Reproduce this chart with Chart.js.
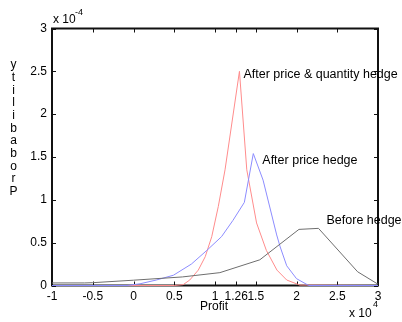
<!DOCTYPE html>
<html>
<head>
<meta charset="utf-8">
<title>Profit distribution before and after hedging</title>
<script src="https://cdn.jsdelivr.net/npm/chart.js@4.4.1/dist/chart.umd.min.js"></script>
<style>
  html, body { margin: 0; padding: 0; background: #ffffff; }
  canvas { display: block; }
</style>
</head>
<body>
<canvas id="chart" width="402" height="322"></canvas>
<script>
// Profit is in units of 10^4, probability in units of 10^-4.
const PROFIT_EXPONENT = '4';
const PROB_EXPONENT = '-4';

const xTickValues = [-1, -0.5, 0, 0.5, 1, 1.26, 1.5, 2, 2.5, 3];
const yTickValues = [0, 0.5, 1, 1.5, 2, 2.5, 3];

const seriesNames = ['Before hedge', 'After price hedge', 'After price & quantity hedge'];

// Unhedged profit
const beforeX = [-1, -0.6, -0.5, 0, 0.6, 1.06, 1.55, 2.03, 2.27, 2.75, 3];
const beforeY = [0.03, 0.03, 0.033, 0.062, 0.1, 0.15, 0.30, 0.655, 0.667, 0.16, 0.015];

// Price hedge only
const priceX = [-1, -0.08, 0.08, 0.28, 0.49, 0.71, 0.9, 1.08, 1.22, 1.36, 1.47, 1.59, 1.757, 1.8, 1.88, 2.0, 2.15, 3];
const priceY = [0, 0, 0.02, 0.064, 0.12, 0.25, 0.41, 0.57, 0.76, 0.97, 1.54, 1.23, 0.59, 0.45, 0.23, 0.08, 0, 0];

// Price and quantity hedge
const pqX = [-1, 0.5, 0.61, 0.69, 0.795, 0.88, 0.96, 1.04, 1.123, 1.3, 1.39, 1.51, 1.63, 1.76, 1.88, 2.04, 3];
const pqY = [0, 0, 0.01, 0.064, 0.18, 0.336, 0.57, 0.92, 1.35, 2.5, 1.35, 0.73, 0.41, 0.18, 0.064, 0.005, 0];

const FONT = "'Liberation Sans', Arial, sans-serif";

function toPoints(xs, ys) {
  return xs.map((x, i) => ({ x: x, y: ys[i] }));
}

// label offsets (px) from each curve's peak
const labelOffsets = [[8, -8], [9, 6.5], [4, 3]];

const boxPlugin = {
  id: 'matlabBox',
  beforeDatasetsDraw(chart) {
    const { ctx, chartArea: a, scales } = chart;
    ctx.save();
    ctx.strokeStyle = '#111';
    ctx.lineWidth = 1;
    // inward tick marks on all four sides
    ctx.beginPath();
    xTickValues.forEach(v => {
      const px = Math.round(scales.x.getPixelForValue(v)) + 0.5;
      ctx.moveTo(px, a.bottom); ctx.lineTo(px, a.bottom - 4);
      ctx.moveTo(px, a.top); ctx.lineTo(px, a.top + 4);
    });
    yTickValues.forEach(v => {
      const py = Math.round(scales.y.getPixelForValue(v)) + 0.5;
      ctx.moveTo(a.left, py); ctx.lineTo(a.left + 4, py);
      ctx.moveTo(a.right, py); ctx.lineTo(a.right - 4, py);
    });
    ctx.stroke();
    ctx.lineWidth = 2;
    ctx.strokeRect(a.left, a.top, a.right - a.left, a.bottom - a.top);
    ctx.restore();
  },
  afterDraw(chart) {
    const { ctx, chartArea: a, scales } = chart;
    ctx.save();
    ctx.fillStyle = '#000';
    ctx.textBaseline = 'middle';

    // curve labels, placed next to each peak
    ctx.font = '12.5px ' + FONT;
    ctx.textAlign = 'left';
    chart.data.datasets.forEach((ds, i) => {
      let peak = ds.data[0];
      ds.data.forEach(p => { if (p.y > peak.y) peak = p; });
      const px = scales.x.getPixelForValue(peak.x) + labelOffsets[i][0];
      const py = scales.y.getPixelForValue(peak.y) + labelOffsets[i][1];
      ctx.fillText(ds.label, px, py);
    });

    // axis title and exponent markers
    ctx.font = '12px ' + FONT;
    ctx.textAlign = 'center';
    ctx.fillText('Profit', (a.left + a.right) / 2 - 1, 306.5);

    ctx.textAlign = 'left';
    ctx.fillText('x 10', a.left + 1, 20);
    ctx.fillText('x 10', 349, 313.5);
    ctx.font = '9px ' + FONT;
    ctx.fillText(PROB_EXPONENT, a.left + 23, 13);
    ctx.fillText(PROFIT_EXPONENT, 373, 305);

    // vertical y title with upright letters
    ctx.font = '12px ' + FONT;
    ctx.textAlign = 'center';
    const title = 'Probability';
    const letters = title.split('').reverse();
    const top = 65, step = 12.67;
    letters.forEach((ch, i) => ctx.fillText(ch, 13.5, top + i * step));
    ctx.restore();
  }
};

const colors = ['#6e6e6e', '#8c8cff', '#ff8c8c'];
const xs = [beforeX, priceX, pqX];
const ys = [beforeY, priceY, pqY];

new Chart(document.getElementById('chart'), {
  type: 'scatter',
  data: {
    datasets: seriesNames.map((name, i) => ({
      label: name,
      data: toPoints(xs[i], ys[i]),
      showLine: true,
      borderColor: colors[i],
      backgroundColor: colors[i],
      borderWidth: 1,
      pointRadius: 0,
      tension: 0,
      clip: false
    }))
  },
  options: {
    responsive: false,
    animation: false,
    devicePixelRatio: 1,
    layout: { padding: { left: 0, top: 28.5, right: 24, bottom: 0 } },
    plugins: { legend: { display: false }, tooltip: { enabled: false } },
    scales: {
      x: {
        type: 'linear',
        min: -1, max: 3,
        grid: { display: false, drawTicks: false },
        border: { display: false },
        afterBuildTicks(scale) { scale.ticks = xTickValues.map(v => ({ value: v })); },
        afterFit(scale) { scale.height = 36.5; },
        ticks: {
          autoSkip: false, maxRotation: 0, padding: 4,
          color: '#000', font: { family: FONT, size: 12 },
          callback: v => String(v)
        }
      },
      y: {
        type: 'linear',
        min: 0, max: 3,
        grid: { display: false, drawTicks: false },
        border: { display: false },
        afterBuildTicks(scale) { scale.ticks = yTickValues.map(v => ({ value: v })); },
        afterFit(scale) { scale.width = 52; },
        ticks: {
          padding: 5,
          color: '#000', font: { family: FONT, size: 12 },
          callback: v => String(v)
        }
      }
    }
  },
  plugins: [boxPlugin]
});
</script>
</body>
</html>
